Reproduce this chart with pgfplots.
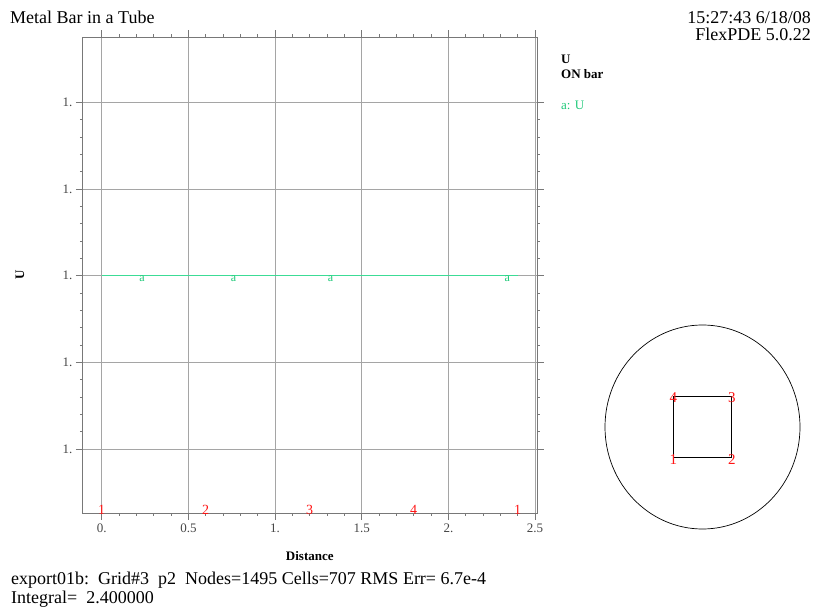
\documentclass[border=0pt]{standalone}
\usepackage{fontspec}
\setmainfont{Liberation Serif}
\usepackage{pgfplots}
\pgfplotsset{compat=1.18}

\definecolor{gridgray}{RGB}{165,165,165}
\definecolor{axisgray}{RGB}{120,120,120}
\definecolor{labelgray}{RGB}{70,70,70}
\definecolor{ucurve}{RGB}{60,220,150}
\definecolor{ulabel}{RGB}{30,200,120}
\definecolor{ptred}{RGB}{255,20,20}

\tikzset{
  curveid/.style={ulabel, inner sep=0pt, font=\fontsize{12}{12}\selectfont},
  ptid/.style={ptred, inner sep=0pt, font=\fontsize{14}{14}\selectfont},
  cornerid/.style={ptred, inner sep=0pt, font=\fontsize{15}{15}\selectfont},
}

% shared geometry of the U plot frame
\pgfplotsset{
  uframe/.style={
    at={(82.3pt,-37pt)}, anchor=north west,
    scale only axis, width=455pt, height=476.3pt,
    xmin=-0.112, xmax=2.513,
    ymin=-5.48, ymax=5.506,
  },
}

\begin{document}
\begin{tikzpicture}
\useasboundingbox (0pt,0pt) rectangle (820pt,-615pt);

% frame, grid and ticks; the y axis is U-1 in units of 1e-4,
% so every tick reads "1." and U = 1 sits on the middle grid line
\begin{axis}[
  uframe,
  xtick={0,0.5,1,1.5,2,2.5},
  xticklabels={0.,0.5,1.,1.5,2.,2.5},
  ytick={-4,-2,0,2,4},
  yticklabels={1.,1.,1.,1.,1.},
  minor x tick num=4, minor y tick num=4,
  tick align=outside,
  major tick length=6.5pt, minor tick length=2.5pt,
  xtick pos=both, ytick pos=both,
  xmajorgrids, ymajorgrids,
  major grid style={gridgray, line width=0.9pt},
  axis line style={axisgray, line width=0.8pt},
  every tick/.style={axisgray, line width=0.6pt},
  tick label style={labelgray, font=\fontsize{13}{13}\selectfont},
  xticklabel style={yshift=-1pt},
  xlabel={\bfseries Distance},
  ylabel={\bfseries U},
  xlabel style={at={(axis description cs:0.5,-0.09)}, anchor=center,
    font=\fontsize{13}{13}\selectfont},
  ylabel style={at={(axis description cs:-0.137,0.5)}, anchor=center,
    rotate=0, font=\fontsize{13}{13}\selectfont},
  clip=false,
]
% boundary point numbers along the distance axis
\node[ptid] at (axis cs:0,-5.40) {1};
\node[ptid] at (axis cs:0.6,-5.40) {2};
\node[ptid] at (axis cs:1.2,-5.40) {3};
\node[ptid] at (axis cs:1.8,-5.40) {4};
\node[ptid] at (axis cs:2.4,-5.40) {1};
\end{axis}

% U along the bar boundary, drawn above the grid
\begin{axis}[uframe, hide axis, clip=false]
\addplot[color=ucurve, line width=1pt, mark=none]
  coordinates {(0,0) (0.6,0) (1.2,0) (1.8,0) (2.4,0)};
% curve identifiers along the line
\node[curveid] at (axis cs:0.233,-0.06) {a};
\node[curveid] at (axis cs:0.76,-0.06) {a};
\node[curveid] at (axis cs:1.32,-0.06) {a};
\node[curveid] at (axis cs:2.34,-0.06) {a};
\end{axis}

% tube cross-section with the bar
\begin{axis}[
  at={(605pt,-325pt)}, anchor=north west,
  scale only axis, width=195pt, height=204pt,
  xmin=-1, xmax=1, ymin=-1, ymax=1,
  hide axis, clip=false,
]
\draw[black, line width=0.7pt] (axis cs:0,0) ellipse [x radius=97.5pt, y radius=102pt];
\addplot[black, line width=0.8pt] coordinates {(-0.3,-0.3) (0.3,-0.3) (0.3,0.3) (-0.3,0.3) (-0.3,-0.3)};
\node[cornerid] at (axis cs:-0.3,-0.32) {1};
\node[cornerid] at (axis cs:0.3,-0.32) {2};
\node[cornerid] at (axis cs:0.3,0.29) {3};
\node[cornerid] at (axis cs:-0.3,0.29) {4};
\end{axis}

% page annotations
\node[anchor=west, inner sep=0pt, font=\fontsize{18}{18}\selectfont] at (10pt,-17pt) {Metal Bar in a Tube};
\node[anchor=east, inner sep=0pt, font=\fontsize{18}{18}\selectfont] at (811pt,-18pt) {15:27:43 6/18/08};
\node[anchor=east, inner sep=0pt, font=\fontsize{18}{18}\selectfont] at (811pt,-34pt) {FlexPDE 5.0.22};

\node[anchor=west, inner sep=0pt, font=\bfseries\fontsize{13}{13}\selectfont] at (561pt,-59pt) {U};
\node[anchor=west, inner sep=0pt, font=\bfseries\fontsize{13}{13}\selectfont] at (561pt,-74pt) {ON bar};
\node[anchor=west, inner sep=0pt, ulabel, font=\fontsize{13}{13}\selectfont] at (561pt,-105pt) {a: U};

\node[anchor=west, inner sep=0pt, font=\fontsize{18}{18}\selectfont] at (11pt,-580pt)
  {export01b:\ \ Grid\#3\ \ p2\ \ Nodes=1495 Cells=707 RMS Err= 6.7e-4};
\node[anchor=west, inner sep=0pt, font=\fontsize{18}{18}\selectfont] at (11pt,-599pt)
  {Integral=\ \ 2.400000};
\end{tikzpicture}
\end{document}
